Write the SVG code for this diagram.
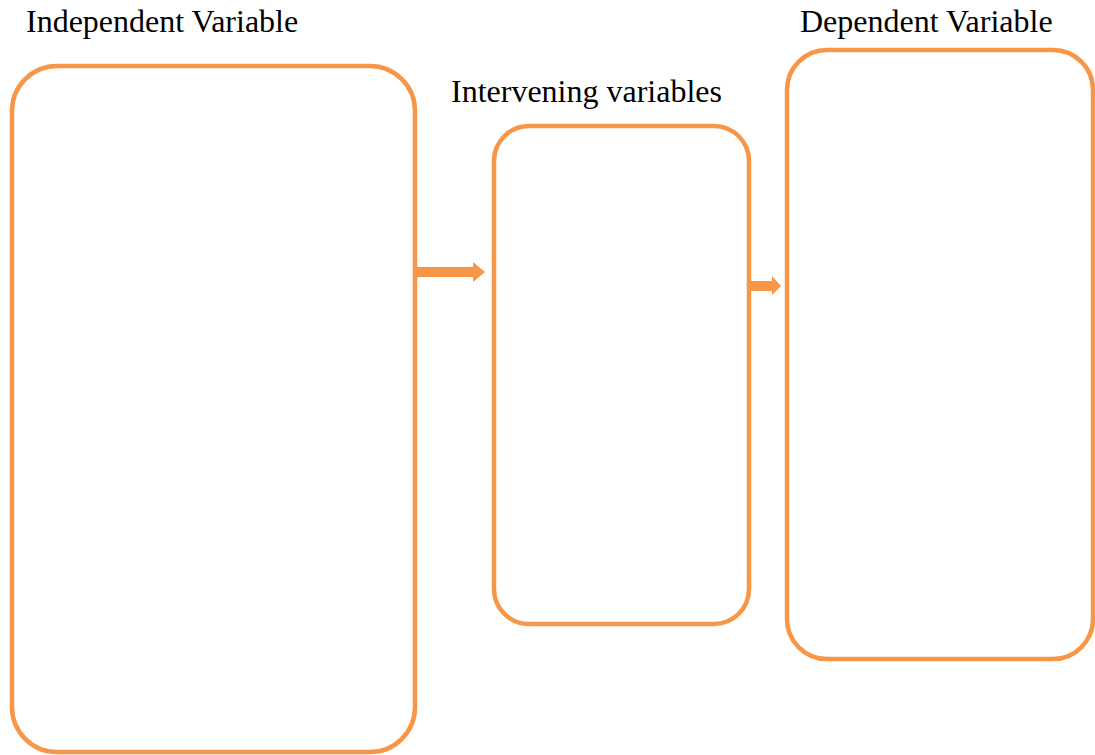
<svg xmlns="http://www.w3.org/2000/svg" width="1095" height="755" viewBox="0 0 1095 755">
<style>
.box{fill:#fff;stroke:#F79646;stroke-width:4.5}
.lbl{font-family:"Liberation Serif","Times New Roman",serif;font-size:32px;fill:#000}
.arr{fill:#F79646}
</style>
<rect width="1095" height="755" fill="#fff"/>
<g id="independent">
<rect class="box" x="12" y="66" width="403" height="686" rx="45" ry="45"/>
<text class="lbl" x="26" y="32">Independent Variable</text>
</g>
<g id="intervening">
<rect class="box" x="494" y="126" width="255" height="498" rx="35" ry="35"/>
<text class="lbl" x="451" y="102">Intervening variables</text>
</g>
<g id="dependent">
<rect class="box" x="787" y="50" width="306" height="609" rx="40" ry="40"/>
<text class="lbl" x="800" y="32">Dependent Variable</text>
</g>
<g id="connectors">
<polygon class="arr" points="417,267 473,267 473,262 485,272 473,282 473,277 417,277"/>
<polygon class="arr" points="751,281 772,281 772,276 781,286 772,295 772,291 751,291"/>
</g>
</svg>
